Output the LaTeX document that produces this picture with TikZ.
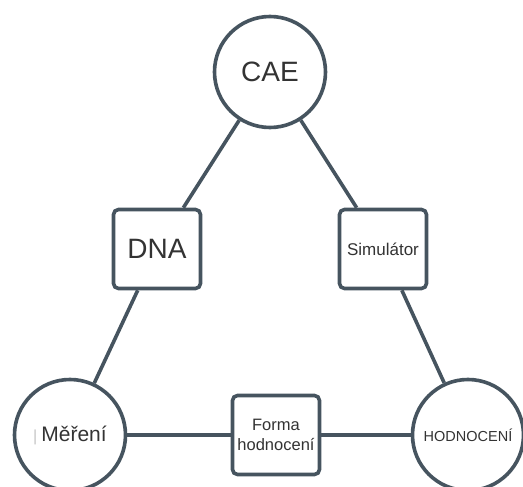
\documentclass[tikz,border=0pt]{standalone}
\usepackage{fontspec}
\setmainfont{Liberation Sans}
\usepackage{tikz}

\definecolor{slate}{HTML}{46545F}
\definecolor{ink}{HTML}{333333}

\begin{document}
\begin{tikzpicture}
    [
    x=1pt, y=-1pt,
    every node/.style={text=ink, font=\fontsize{16.5}{20}\selectfont},
    hub/.style={circle,draw=slate,line width=3.6pt,fill=white,minimum size=111pt,inner sep=0pt},
    box/.style={rectangle,rounded corners=5pt,draw=slate,line width=3.6pt,fill=white,minimum width=87pt,minimum height=79pt,inner sep=1pt,align=center},
    edge/.style={draw=slate,line width=3.6pt}
    ]
\useasboundingbox (0,0) rectangle (523,487);
\node[hub] (cae) at (270,72) {\fontsize{28}{30}\selectfont CAE};
\node[hub] (mereni) at (70,435) {\fontsize{21}{24}\selectfont \textcolor{gray!45}{\fontsize{16}{18}\selectfont|}\hspace{4pt}Měření};
\node[hub] (hodn) at (468,435) {\fontsize{14.5}{16}\selectfont HODNOCENÍ};
\node[box] (dna) at (157,249) {\fontsize{28}{30}\selectfont DNA};
\node[box] (sim) at (383,249) {\fontsize{17}{20}\selectfont Simulátor};
\node[box] (forma) at (276,435) {Forma\\hodnocení};
\draw[edge] (cae) -- (dna);
\draw[edge] (dna) -- (mereni);
\draw[edge] (cae) -- (sim);
\draw[edge] (sim) -- (hodn);
\draw[edge] (mereni) -- (forma);
\draw[edge] (forma) -- (hodn);
\end{tikzpicture}
\end{document}
